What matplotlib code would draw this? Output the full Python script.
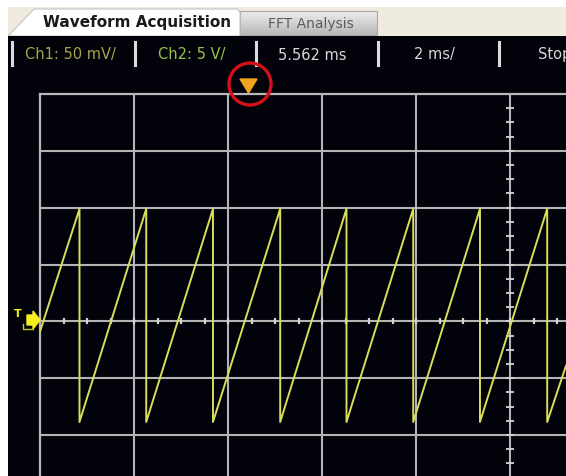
import numpy as np
import matplotlib.pyplot as plt
from matplotlib.patches import Rectangle, Polygon, Circle

# sawtooth (time in ms, Ch2 in volts)
start_t, start_v = 0.0, -0.9
drop_times = [0.84, 2.26, 3.68, 5.11, 6.52, 7.94, 9.36, 10.79]
peak_v = [9.9, 9.9, 9.9, 9.9, 9.9, 9.9, 9.9, 9.9]
trough_v = [-8.85, -8.85, -8.85, -8.85, -8.85, -8.85, -8.85, -8.85]
end_t, end_v = 11.19, -3.9

status_labels = ["Ch1: 50 mV/", "Ch2: 5 V/", "5.562 ms", "2 ms/", "Stop"]
status_colors = ["#a4a44a", "#92c44a", "#d8d8d8", "#d8d8d8", "#d8d8d8"]
status_x = [25, 158, 278, 414, 538]
sep_x = [12, 135, 256, 378, 499]

ms_per_div = 2
v_per_div = 5

W, H = 566, 477
fig = plt.figure(figsize=(W / 100, H / 100), dpi=100)
fig.patch.set_facecolor("white")

# background: tab strip, tabs, black screen, status bar
bg = fig.add_axes([0, 0, 1, 1])
bg.set_xlim(0, W)
bg.set_ylim(H, 0)
bg.axis("off")
bg.add_patch(Rectangle((8, 8), W - 8, 29, color="#efebdf", lw=0))
shade = np.linspace(0.93, 0.72, 50)
grad = np.dstack([shade, shade, shade]).reshape(50, 1, 3)
bg.imshow(grad, aspect="auto", extent=(240, 377, 36, 12), zorder=1)
bg.add_patch(Rectangle((240, 12), 137, 24, fill=False, ec="#a8a8a8", lw=0.8, zorder=2))
bg.text(311, 24, "FFT Analysis", ha="center", va="center", fontsize=10,
        color="#5c5c5c", zorder=3)
bg.add_patch(Polygon([(8, 37), (34, 10), (237, 10), (240, 13), (240, 37)],
                     closed=True, fc="white", ec="#c4c4c4", lw=0.8, zorder=2))
bg.text(137, 23, "Waveform Acquisition", ha="center", va="center", fontsize=11,
        fontweight="bold", color="#1a1a1a", zorder=3)
bg.add_patch(Rectangle((8, 37), W - 8, H - 37, color="#02020a", lw=0, zorder=2))
for sx in sep_x:
    bg.plot([sx, sx], [43, 66], color="#dcdcdc", lw=2.2, zorder=3)
for lbl, c, tx in zip(status_labels, status_colors, status_x):
    bg.text(tx, 55, lbl, ha="left", va="center", fontsize=10.5, color=c, zorder=3)

# graticule + trace
ax = fig.add_axes([40 / W, 0, 1 - 40 / W, (H - 95) / H])
ax.patch.set_alpha(0)
ax.set_xlim(0, end_t)
ax.set_ylim(-13.6, 4 * v_per_div)
for s in ["right", "bottom"]:
    ax.spines[s].set_visible(False)
for s in ["top", "left"]:
    ax.spines[s].set_color("#b8b8b8")
    ax.spines[s].set_linewidth(1.6)
ax.set_xticks([])
ax.set_yticks([])

grid_c = "#b4b4b4"
for k in range(1, 6):
    ax.axvline(k * ms_per_div, color=grid_c, lw=1.5, zorder=1)
for k in range(-2, 4):
    ax.axhline(k * v_per_div, color=grid_c, lw=1.5, zorder=1)

# small ticks along the centre axes (4 per division)
cx = 5 * ms_per_div
yt = np.arange(-15, 20, v_per_div / 4)
ax.plot(np.full_like(yt, cx), yt, ls="none", marker="_", ms=6, mew=1.3,
        color="#d4d4d4", zorder=1)
xt = np.arange(0, end_t, ms_per_div / 4)
ax.plot(xt, np.zeros_like(xt), ls="none", marker="|", ms=4, mew=1.6,
        color="#d4d4d4", zorder=1)

t = [start_t]
v = [start_v]
for d, p, q in zip(drop_times, peak_v, trough_v):
    t += [d, d]
    v += [p, q]
t.append(end_t)
v.append(end_v)
ax.plot(t, v, color="#d8de5a", lw=1.4, zorder=3)

# foreground markers: trigger level and trigger position
fg = fig.add_axes([0, 0, 1, 1])
fg.patch.set_alpha(0)
fg.set_xlim(0, W)
fg.set_ylim(H, 0)
fg.axis("off")
fg.text(18, 314, "T", ha="center", va="center", fontsize=8, fontweight="bold",
        color="#f0f020")
fg.add_patch(Polygon([(27, 316), (33, 316), (33, 312), (40, 321), (33, 330), (33, 326),
                      (27, 326)], closed=True, color="#f4f020"))
fg.plot([23, 23, 33], [325, 330, 330], color="#c8c820", lw=1)
fg.add_patch(Polygon([(240, 80), (257, 80), (248.5, 94)], closed=True, color="#f2a21e"))
fg.add_patch(Circle((250, 85), 21, fill=False, ec="#d4101c", lw=2.4))

fig.savefig("out.png", dpi=100, facecolor=fig.get_facecolor())
